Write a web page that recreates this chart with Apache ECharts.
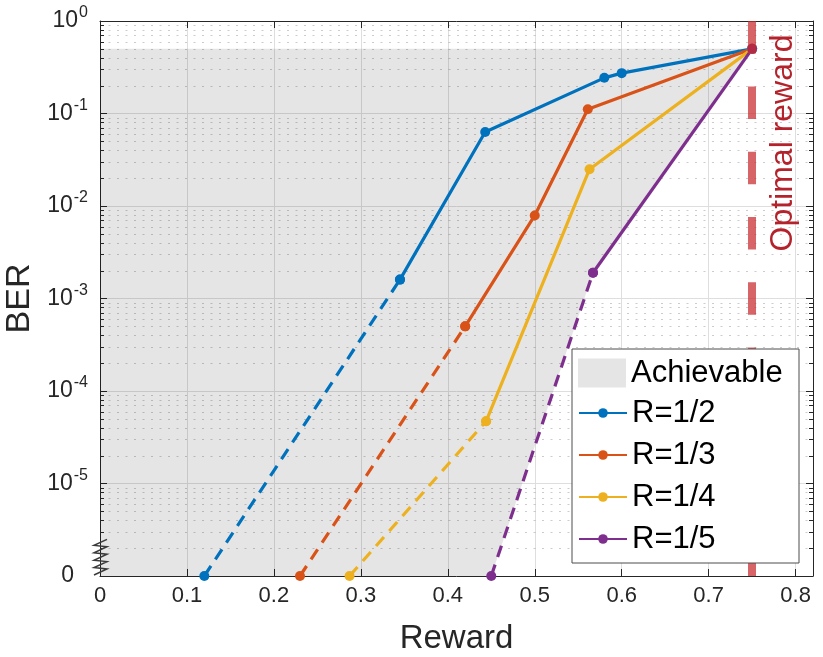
<!DOCTYPE html>
<html>
<head>
<meta charset="utf-8">
<script src="https://cdn.jsdelivr.net/npm/echarts@6/dist/echarts.min.js"></script>
<style>
  html, body { margin: 0; padding: 0; background: #fff; }
  #chart { width: 823px; height: 657px; }
</style>
</head>
<body>
<div id="chart"></div>
<script>
// BER against reward for each code rate (BER = 0 is drawn on the bottom line)
const rewardR2 = [0.12, 0.345, 0.443, 0.58, 0.60, 0.75];
const berR2 = [0, 1.6e-3, 0.063, 0.243, 0.273, 0.5];
const rewardR3 = [0.23, 0.42, 0.50, 0.561, 0.75];
const berR3 = [0, 5.0e-4, 7.9e-3, 0.111, 0.5];
const rewardR4 = [0.287, 0.444, 0.563, 0.75];
const berR4 = [0, 4.7e-5, 0.025, 0.5];
const rewardR5 = [0.45, 0.567, 0.75];
const berR5 = [0, 1.9e-3, 0.5];

const rateNames = ['R=1/2', 'R=1/3', 'R=1/4', 'R=1/5'];
const rateColors = ['#0072BD', '#D95319', '#EDB120', '#7E2F8E'];

const achievableTop = 0.5;
const optimalReward = 0.75;
const zeroLevel = 1e-6;   // "0" label sits here on the log axis

const xMin = 0, xMax = 0.82, xStep = 0.1;
const yMin = 1e-6, yMax = 1;

const font = "'Liberation Sans', Arial, Helvetica, sans-serif";
const axisColor = '#262626';

const toY = v => (v === 0 ? zeroLevel : v);

const curves = [
  { name: rateNames[0], reward: rewardR2, ber: berR2, color: rateColors[0] },
  { name: rateNames[1], reward: rewardR3, ber: berR3, color: rateColors[1] },
  { name: rateNames[2], reward: rewardR4, ber: berR4, color: rateColors[2] },
  { name: rateNames[3], reward: rewardR5, ber: berR5, color: rateColors[3] }
];

// achievable area: everything left of / above the R=1/5 curve, below 0.5
const achievableRegion = [[xMin, 0], [xMin, achievableTop], [optimalReward, achievableTop]]
  .concat(rewardR5.slice(0, -1).map((r, i) => [r, berR5[i]]).reverse());

// minor log grid 2..9 x 10^k
const minorValues = [];
for (let e = Math.log10(yMin); e < Math.log10(yMax); e++) {
  for (let m = 2; m <= 9; m++) minorValues.push(m * Math.pow(10, e));
}

function pairs(c, from, to) {
  const out = [];
  for (let i = from; i < to; i++) out.push([c.reward[i], toY(c.ber[i])]);
  return out;
}

function renderAchievable(params, api) {
  const pts = achievableRegion.map(p => api.coord([p[0], toY(p[1])]));
  return { type: 'polygon', shape: { points: pts }, style: { fill: 'rgba(0,0,0,0.1)' } };
}

function renderMinor(params, api) {
  const cs = params.coordSys;
  const y = Math.round(api.coord([xMin, api.value(1)])[1]) + 0.5;
  const l = cs.x, r = cs.x + cs.width;
  const tick = { stroke: axisColor, lineWidth: 1 };
  return {
    type: 'group',
    children: [
      { type: 'line', shape: { x1: l, y1: y, x2: r, y2: y },
        style: { stroke: 'rgba(0,0,0,0.2)', lineWidth: 1, lineDash: [2, 6.5] } },
      { type: 'line', shape: { x1: l, y1: y, x2: l + 4, y2: y }, style: tick },
      { type: 'line', shape: { x1: r - 4, y1: y, x2: r, y2: y }, style: tick }
    ]
  };
}

function renderBreak(params, api) {
  const o = api.coord([xMin, zeroLevel]);
  const pts = [];
  for (let k = 0; k < 5; k++) {
    pts.push([o[0] - 6, o[1] - 1 - 7.4 * k]);
    pts.push([o[0] + 7, o[1] - 7 - 7.4 * k]);
  }
  return { type: 'polyline', shape: { points: pts }, style: { stroke: '#3a3a3a', lineWidth: 1.5, fill: null } };
}

const lineSeries = [];
curves.forEach(c => {
  lineSeries.push({
    name: c.name, type: 'line', data: pairs(c, 1, c.reward.length),
    symbol: 'circle', symbolSize: 10, z: 3,
    itemStyle: { color: c.color }, lineStyle: { color: c.color, width: 3.2 }
  });
  lineSeries.push({
    name: c.name, type: 'line', data: pairs(c, 0, 2),
    symbol: 'circle', symbolSize: 10, z: 3,
    itemStyle: { color: c.color }, lineStyle: { color: c.color, width: 3.2, type: [12, 8] }
  });
});

function yLabel(v) {
  const e = Math.round(Math.log10(v));
  if (v <= zeroLevel * 1.0001) return '{z|0}';
  return '{b|10}{s|' + e + '}';
}

const xAxisBase = {
  type: 'value', min: xMin, max: xMax, interval: xStep,
  axisLine: { show: true, onZero: false, lineStyle: { color: axisColor, width: 1 } },
  axisTick: { show: true, inside: true, length: 7, lineStyle: { color: axisColor } }
};
const yAxisBase = {
  type: 'log', logBase: 10, min: yMin, max: yMax,
  axisLine: { show: true, onZero: false, lineStyle: { color: axisColor, width: 1 } },
  axisTick: { show: true, inside: true, length: 7, lineStyle: { color: axisColor } }
};

const chart = echarts.init(document.getElementById('chart'));
chart.setOption({
  animation: false,
  backgroundColor: '#fff',
  textStyle: { fontFamily: font },
  grid: { left: 100, right: 10, top: 21, bottom: 81, containLabel: false, outerBoundsMode: 'none' },
  xAxis: [
    Object.assign({}, xAxisBase, {
      position: 'bottom', name: 'Reward', nameLocation: 'middle', nameGap: 46,
      nameTextStyle: { fontSize: 33, color: axisColor, fontFamily: font },
      axisLabel: { fontSize: 22, color: axisColor, margin: 9, showMaxLabel: false, fontFamily: font },
      splitLine: { show: true, lineStyle: { color: '#dedede', width: 1 } }
    }),
    Object.assign({}, xAxisBase, {
      position: 'top', axisLabel: { show: false }, splitLine: { show: false }
    })
  ],
  yAxis: [
    Object.assign({}, yAxisBase, {
      position: 'left', name: 'BER', nameLocation: 'middle', nameGap: 60,
      nameTextStyle: { fontSize: 34, color: axisColor, fontFamily: font },
      splitLine: { show: true, lineStyle: { color: '#dedede', width: 1 } },
      axisLabel: {
        margin: 12, formatter: yLabel,
        rich: {
          b: { fontSize: 23, lineHeight: 23, color: axisColor, fontFamily: font, verticalAlign: 'bottom', padding: [9, 0, 0, 0] },
          s: { fontSize: 16, lineHeight: 16, color: axisColor, fontFamily: font, verticalAlign: 'bottom', padding: [0, 0, 11.6, 1] },
          z: { fontSize: 23, lineHeight: 23, color: axisColor, fontFamily: font, padding: [0, 14, 0, 0] }
        }
      }
    }),
    Object.assign({}, yAxisBase, {
      position: 'right', axisLabel: { show: false }, splitLine: { show: false }
    })
  ],
  legend: [
    {
      z: 11, orient: 'vertical', left: 578, top: 357.5, padding: 0,
      itemWidth: 48, itemHeight: 29,
      data: [{ name: 'Achievable', icon: 'rect', itemStyle: { color: '#e5e5e5' } }],
      textStyle: { fontSize: 31, lineHeight: 31, color: '#000', fontFamily: font }
    },
    {
      z: 11, orient: 'vertical', left: 578, top: 397.5, padding: 0,
      itemWidth: 48, itemHeight: 12, itemGap: 11,
      data: rateNames,
      textStyle: { fontSize: 31, lineHeight: 31, color: '#000', fontFamily: font }
    }
  ],
  series: [
    { name: 'Achievable', type: 'custom', renderItem: renderAchievable, data: [[xMin, achievableTop]],
      itemStyle: { color: '#e5e5e5' }, z: 1, silent: true },
    { name: 'minor', type: 'custom', renderItem: renderMinor, data: minorValues.map(v => [xMin, v]),
      z: 2, silent: true }
  ].concat(lineSeries).concat([
    { name: 'break', type: 'custom', renderItem: renderBreak, data: [[xMin, zeroLevel]], z: 4, silent: true },
    { name: 'optimal', type: 'line', data: [], z: 5,
      markLine: {
        silent: true, symbol: ['none', 'none'], label: { show: false },
        lineStyle: { color: '#c8282d', width: 8, type: [32.5, 32.8], opacity: 0.72 },
        data: [{ xAxis: optimalReward }]
      }
    }
  ])
});

// legend frame and the "Optimal reward" caption
const optTop = chart.convertToPixel({ xAxisIndex: 0, yAxisIndex: 0 }, [optimalReward, yMax]);
chart.setOption({
  graphic: [
    { type: 'rect', z: 10, shape: { x: 572, y: 349, width: 227, height: 214 },
      style: { fill: '#fff', stroke: '#4d4d4d', lineWidth: 1 } },
    { type: 'text', z: 12, x: optTop[0] + 31, y: optTop[1] + 122, rotation: Math.PI / 2,
      style: { text: 'Optimal reward', fontSize: 32, fontFamily: font, fill: '#b4232b',
        align: 'center', verticalAlign: 'middle' } }
  ]
});
</script>
</body>
</html>
